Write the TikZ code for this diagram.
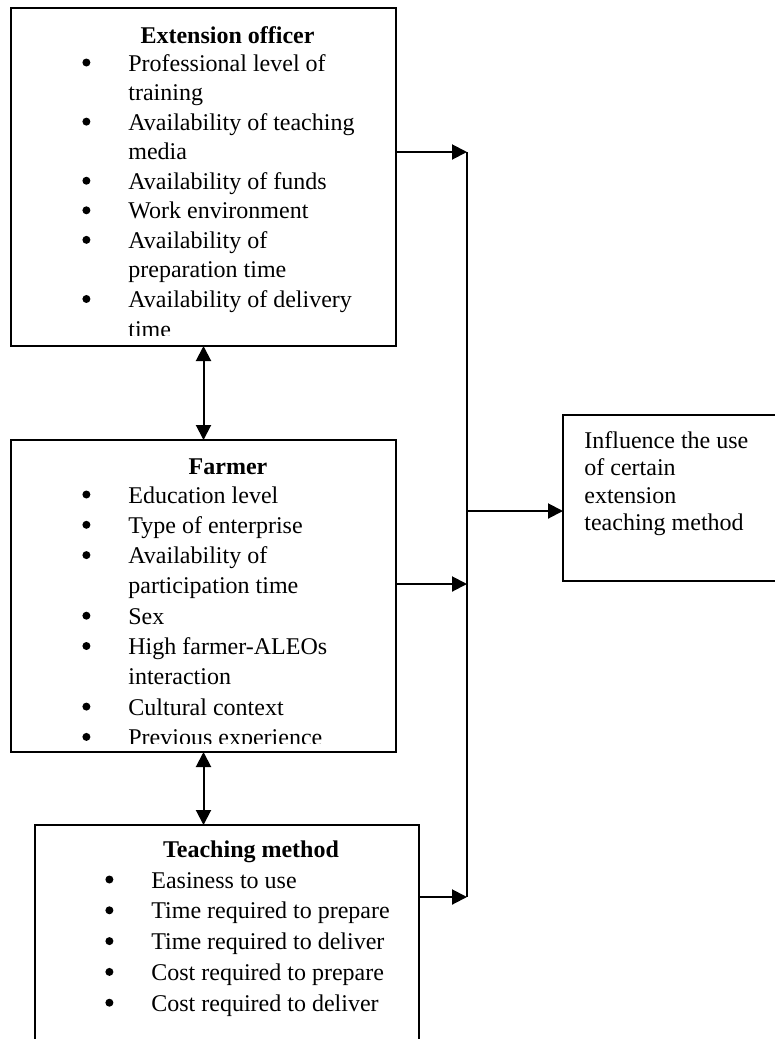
\documentclass[tikz,border=0pt]{standalone}
\usepackage{fontspec}
\setmainfont{Liberation Serif}
\usetikzlibrary{arrows.meta}
\tikzset{box/.style={draw=black, line width=1pt, inner sep=0pt, outer sep=0pt, anchor=north west},
 arr/.style={line width=1pt, -{Triangle[length=7.5pt,width=7.5pt]}},
 both/.style={line width=1pt, {Triangle[length=7.5pt,width=7.5pt]}-{Triangle[length=7.5pt,width=7.5pt]}},
 title/.style={anchor=base, inner sep=0pt, font=\fontsize{12}{14}\selectfont\bfseries},
 items/.style={anchor=base west, inner sep=0pt},
 }
\newcommand{\bul}{\tikz[baseline=0pt]\fill (2pt,4.25pt) circle (2pt);}

\begin{document}
\begin{tikzpicture}[x=0.5pt, y=-0.5pt]
        \useasboundingbox (0,0) rectangle (775,1039);
        \clip (0,0) rectangle (775,1039);
        \node[box, minimum width=192.5pt, minimum height=169pt] (officer) at (11,8) {};
        \node[box, minimum width=192.5pt, minimum height=156pt] (farmer) at (11,440) {};
        \node[box, minimum width=192pt, minimum height=117.5pt] (method) at (35,825) {};
        \node[box, minimum width=113.5pt, minimum height=83pt] (influence) at (563,415) {};
        \node[title] (officer-t) at (227.5,43) {Extension officer};
        \node[title] (farmer-t) at (228,474) {Farmer};
        \node[title] (method-t) at (251,857) {Teaching method};
        \begin{scope}
            \clip (11,8) rectangle (396,335);
            \node[items, font=\fontsize{12}{14.78}\selectfont] (officer-l) at (82,71) {%
            \begin{tabular}[t]{@{}p{23pt}@{}l@{}}
            \bul & Professional level of\\
                 & training\\
            \bul & Availability of teaching\\
                 & media\\
            \bul & Availability of funds\\
            \bul & Work environment\\
            \bul & Availability of\\
                 & preparation time\\
            \bul & Availability of delivery\\
                 & time
            \end{tabular}};
        \end{scope}
        \begin{scope}
            \clip (11,440) rectangle (396,743);
            \node[items, font=\fontsize{12}{15.15}\selectfont] (farmer-l) at (82,503) {%
            \begin{tabular}[t]{@{}p{23pt}@{}l@{}}
            \bul & Education level\\
            \bul & Type of enterprise\\
            \bul & Availability of\\
                 & participation time\\
            \bul & Sex\\
            \bul & High farmer-ALEOs\\
                 & interaction\\
            \bul & Cultural context\\
            \bul & Previous experience
            \end{tabular}};
        \end{scope}
        \node[items, font=\fontsize{12}{15.4}\selectfont] (method-l) at (105,888) {%
            \begin{tabular}[t]{@{}p{23pt}@{}l@{}}
            \bul & Easiness to use\\
            \bul & Time required to prepare\\
            \bul & Time required to deliver\\
            \bul & Cost required to prepare\\
            \bul & Cost required to deliver
            \end{tabular}};
        \node[items, font=\fontsize{12}{13.75}\selectfont] (influence-t) at (584,448) {%
            \begin{tabular}[t]{@{}l@{}}
            Influence the use\\
            of certain\\
            extension\\
            teaching method
            \end{tabular}};
        \coordinate (bustop) at (467,152);
        \coordinate (busfarm) at (467,584);
        \coordinate (busmid) at (467,511);
        \coordinate (busbot) at (467,897);
        \draw[line width=1pt] (bustop) -- (busbot);
        \draw[arr] (officer.east |- bustop) -- (bustop);
        \draw[arr] (farmer.east |- busfarm) -- (busfarm);
        \draw[arr] (method.east |- busbot) -- (busbot);
        \draw[arr] (busmid) -- (busmid -| influence.west);
        \draw[both] (officer.south) -- (farmer.north);
        \draw[both] (farmer.south) -- (farmer.south |- method.north);
    \end{tikzpicture}
\end{document}
